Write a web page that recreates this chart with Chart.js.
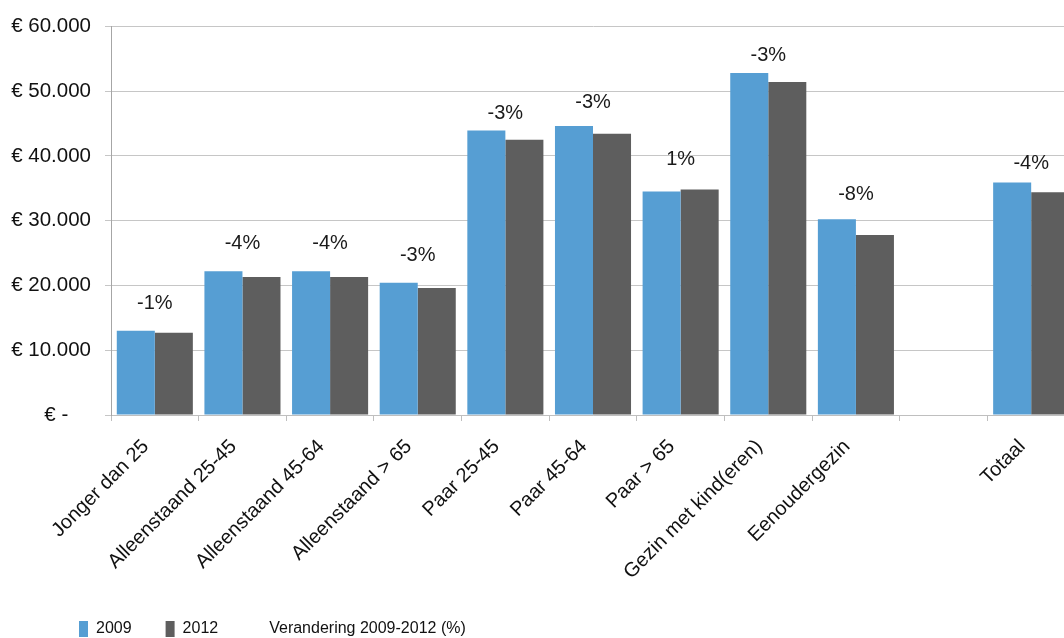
<!DOCTYPE html>
<html>
<head>
<meta charset="utf-8">
<script src="https://cdn.jsdelivr.net/npm/chart.js@4/dist/chart.umd.min.js"></script>
<style>
  html, body { margin: 0; padding: 0; background: #fff; overflow: hidden; }
  #wrap { width: 1064px; height: 638px; overflow: hidden; position: relative; }
  canvas { display: block; }
</style>
</head>
<body>
<div id="wrap"><canvas id="c" width="1080" height="647"></canvas></div>
<script>
// ---- data ----
const categories = ['Jonger dan 25', 'Alleenstaand 25-45', 'Alleenstaand 45-64', 'Alleenstaand > 65',
  'Paar 25-45', 'Paar 45-64', 'Paar > 65', 'Gezin met kind(eren)', 'Eenoudergezin', '', 'Totaal'];
const values2009 = [13000, 22200, 22200, 20400, 43900, 44600, 34500, 52800, 30200, null, 35900];
const values2012 = [12700, 21300, 21300, 19600, 42500, 43400, 34800, 51400, 27800, null, 34400];
const changeLabels = ['-1%', '-4%', '-4%', '-3%', '-3%', '-3%', '1%', '-3%', '-8%', null, '-4%'];
const changeLabelPos = [17200, 26400, 26400, 24700, 46600, 48300, 39400, 55500, 34100, null, 38800];
const yTicks = [0, 10000, 20000, 30000, 40000, 50000, 60000];
const yTickLabels = ['€ -    ', '€ 10.000', '€ 20.000', '€ 30.000', '€ 40.000', '€ 50.000', '€ 60.000'];
const seriesNames = ['2009', '2012', 'Verandering 2009-2012 (%)'];

const FONT = "'Liberation Sans', Arial, sans-serif";

const labelPlugin = {
  id: 'changeLabels',
  afterDatasetsDraw(chart) {
    const meta = chart.getDatasetMeta(2);
    const ctx = chart.ctx;
    ctx.save();
    ctx.font = '20px ' + FONT;
    ctx.fillStyle = '#1a1a1a';
    ctx.textAlign = 'center';
    ctx.textBaseline = 'middle';
    meta.data.forEach((pt, i) => {
      const t = changeLabels[i];
      if (t == null || changeLabelPos[i] == null) return;
      ctx.fillText(t, pt.x, pt.y);
    });
    ctx.restore();
  }
};

// shift the legend block to the right, like the original
const legendShift = {
  id: 'legendShift',
  afterLayout(chart) {
    if (chart.legend) chart.legend.left = 45;
  }
};

new Chart(document.getElementById('c'), {
  type: 'bar',
  data: {
    labels: categories,
    datasets: [
      { label: seriesNames[0], data: values2009, backgroundColor: '#569ED3', borderWidth: 0,
        categoryPercentage: 0.868, barPercentage: 1.0 },
      { label: seriesNames[1], data: values2012, backgroundColor: '#5E5E5E', borderWidth: 0,
        categoryPercentage: 0.868, barPercentage: 1.0 },
      { type: 'line', label: seriesNames[2], data: changeLabelPos, showLine: false,
        pointRadius: 0, backgroundColor: 'rgba(0,0,0,0)', borderColor: 'rgba(0,0,0,0)',
        borderWidth: 0 }
    ]
  },
  options: {
    responsive: false,
    animation: false,
    layout: { padding: { left: 0, right: 5, top: 20, bottom: 0 } },
    plugins: {
      legend: {
        position: 'bottom',
        align: 'start',
        labels: {
          boxWidth: 9, boxHeight: 16, padding: 34,
          color: '#111', font: { family: FONT, size: 16 }
        }
      },
      tooltip: { enabled: false }
    },
    scales: {
      x: {
        grid: { offset: true, drawOnChartArea: false, drawTicks: true, tickLength: 6, color: '#bfbfbf' },
        border: { color: '#bfbfbf', width: 1 },
        ticks: { minRotation: 45, maxRotation: 45, autoSkip: false, padding: 14, labelOffset: -9,
          color: '#111', font: { family: FONT, size: 20 } },
        afterFit: s => { s.height = 172; }
      },
      y: {
        min: 0, max: 60000,
        afterBuildTicks: s => { s.ticks = yTicks.map(v => ({ value: v })); },
        grid: { color: '#c6c6c6', tickLength: 6, drawTicks: true },
        border: { color: '#a6a6a6', width: 1 },
        ticks: { padding: 14, color: '#111', font: { family: FONT, size: 20.5 },
          callback: (v) => { const i = yTicks.indexOf(v); return i >= 0 ? yTickLabels[i] : ''; } },
        afterFit: s => { s.width = 111; }
      }
    }
  },
  plugins: [labelPlugin, legendShift]
});
</script>
</body>
</html>
